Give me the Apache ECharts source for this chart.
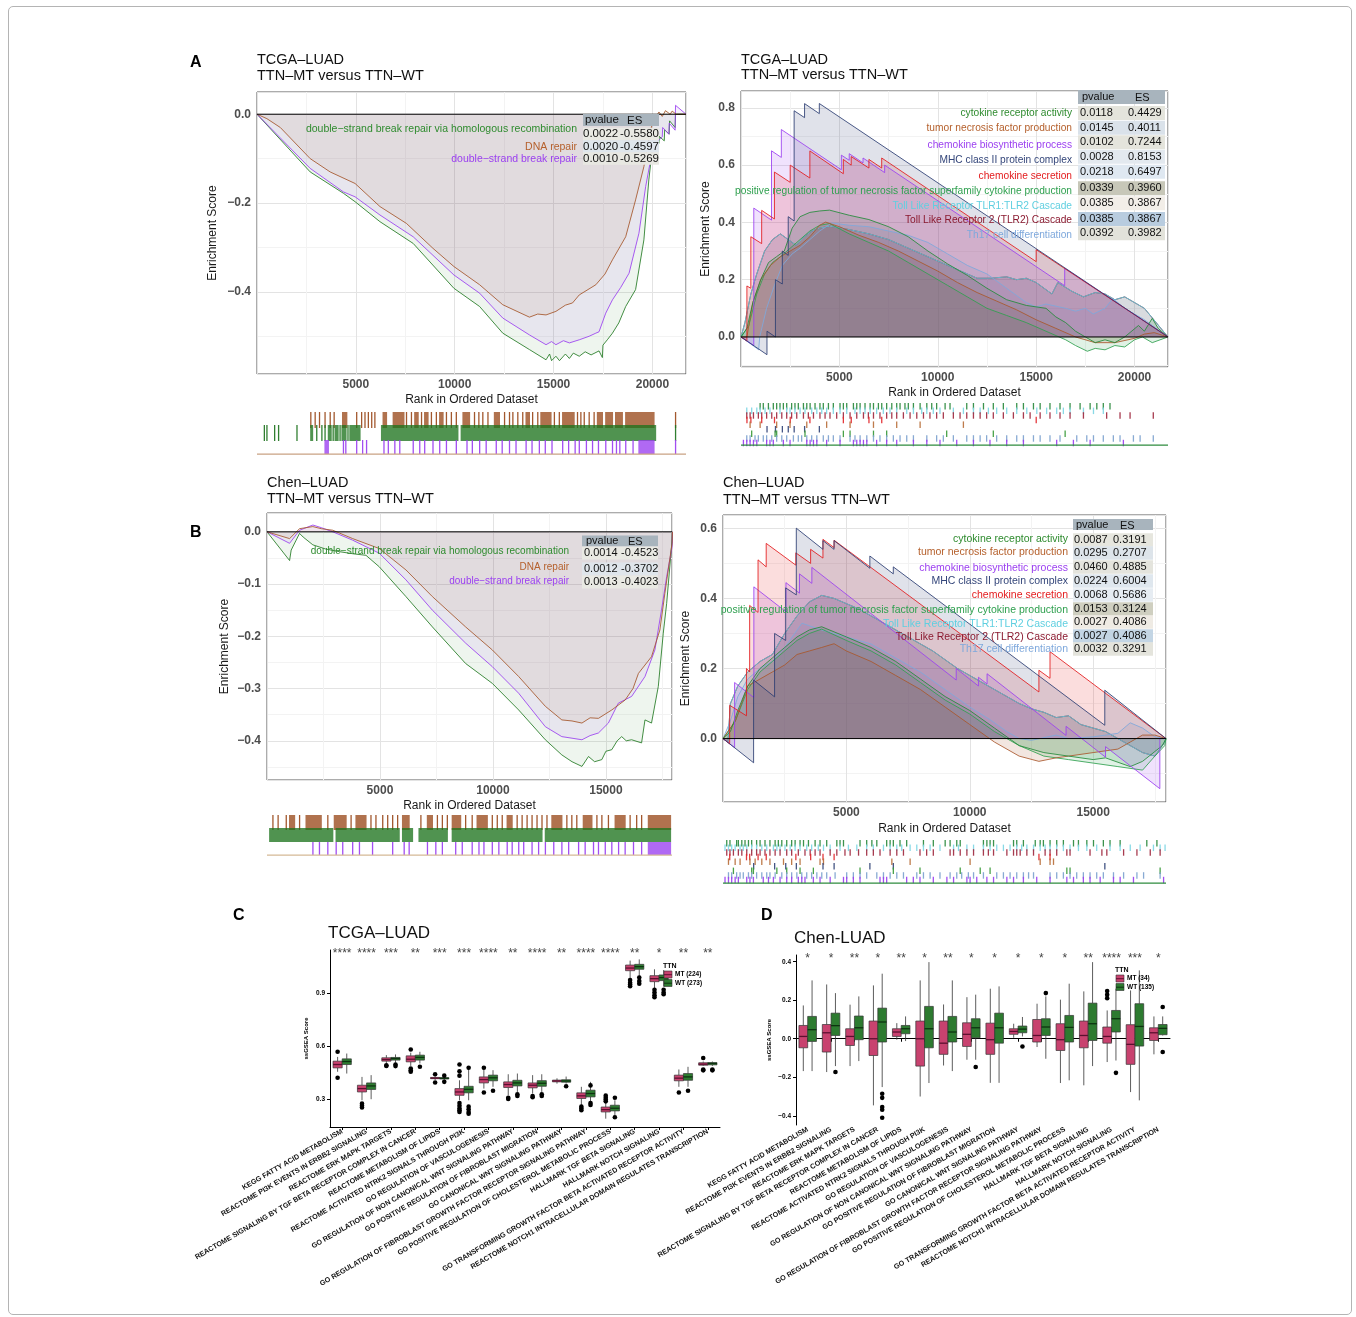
<!DOCTYPE html>
<html>
<head>
<meta charset="utf-8">
<title>TTN mutation: GSEA and ssGSEA</title>
<script src="https://cdn.jsdelivr.net/npm/echarts@6.0.0/dist/echarts.min.js"></script>
<style>
  html, body { margin: 0; padding: 0; background: #fff; }
  #frame { position: absolute; left: 8px; top: 6px; width: 1344px; height: 1309px; border: 1px solid #b4b4b4; border-radius: 5px; box-sizing: border-box; }
  #chart { position: absolute; left: 0; top: 0; width: 1356px; height: 1317px; }
</style>
</head>
<body>
<div id="frame"></div>
<div id="chart"></div>
<script>
// ---------------- data: GSEA, DNA repair sets (ranks in thousands) ----------------
const repairSets = ['double\u2212strand break repair via homologous recombination', 'DNA repair', 'double\u2212strand break repair'];

const aLeftP = [0.0022, 0.0020, 0.0010];
const aLeftES = [-0.5580, -0.4597, -0.5269];
const aLeftCurveHR = [[0,0],[2.69,-0.13],[4.37,-0.178],[4.96,-0.197],[6.22,-0.242],[7.9,-0.291],[9.96,-0.392],[11.26,-0.433],[12.43,-0.493],[13.78,-0.53],[14.62,-0.553],[14.8,-0.54],[14.9,-0.555],[15.12,-0.545],[15.3,-0.555],[15.6,-0.54],[15.8,-0.55],[16.0,-0.538],[16.3,-0.545],[16.6,-0.535],[16.9,-0.542],[17.3,-0.533],[17.47,-0.548],[17.5,-0.52],[17.72,-0.508],[17.98,-0.493],[18.3,-0.47],[18.65,-0.433],[19.15,-0.395],[19.57,-0.283],[19.82,-0.148],[19.99,-0.081],[20.33,-0.066],[20.35,-0.05],[20.6,-0.06],[20.62,-0.035],[20.85,-0.045],[20.87,-0.015],[21.15,-0.03],[21.17,0.0],[21.7,0]];
const aLeftCurveDNA = [[0,0],[0.5,-0.01],[1.18,-0.03],[2.69,-0.1],[3.7,-0.13],[4.96,-0.156],[6.22,-0.208],[7.56,-0.246],[8.9,-0.302],[9.96,-0.343],[11.26,-0.384],[12.43,-0.429],[13.2,-0.445],[13.78,-0.457],[14.2,-0.45],[14.62,-0.452],[15.12,-0.444],[15.6,-0.43],[15.96,-0.425],[16.3,-0.407],[17.14,-0.384],[17.6,-0.36],[17.98,-0.328],[18.65,-0.276],[19.15,-0.193],[19.57,-0.118],[19.82,-0.058],[19.99,-0.021],[20.33,0.005],[20.5,-0.005],[20.66,0.008],[20.9,0.0],[21.0,0.007],[21.2,0.0],[21.7,0]];
const aLeftCurveDSB = [[0,0],[2.69,-0.122],[4.37,-0.175],[4.96,-0.186],[6.22,-0.227],[7.9,-0.276],[9.96,-0.362],[11.26,-0.403],[12.43,-0.459],[13.78,-0.497],[14.62,-0.519],[14.9,-0.512],[15.12,-0.519],[15.5,-0.51],[15.8,-0.515],[16.3,-0.508],[16.8,-0.5],[17.14,-0.493],[17.3,-0.49],[17.64,-0.448],[17.98,-0.418],[18.4,-0.39],[18.82,-0.358],[19.32,-0.268],[19.66,-0.163],[19.91,-0.103],[20.16,-0.066],[20.5,-0.051],[20.52,-0.03],[20.83,-0.045],[20.85,-0.02],[21.15,-0.036],[21.17,0.02],[21.7,0]];
// hit positions: single ranks or [from, to] dense runs
const aLeftRugDNA = [2.72,2.94,3.16,3.44,3.7,3.9,[4.33,4.54],5.04,5.29,5.46,5.63,5.8,5.96,[6.38,6.55],[6.89,7.43],7.56,7.81,[7.98,8.15],8.32,[8.48,8.65],8.82,9.07,[9.24,9.41],9.58,9.83,10.08,[10.42,10.75],11.0,11.22,11.42,11.68,[12.01,12.26],12.52,12.77,12.94,13.19,13.44,[13.61,13.78],13.94,14.2,[14.36,14.87],15.04,15.29,[15.46,16.04],16.21,16.38,16.55,16.8,17.05,[17.22,17.47],[17.64,17.98],[18.14,18.48],[18.65,20.08],21.17];
const aLeftRugHR = [0.37,0.5,0.89,1.09,2.02,[2.72,2.81],3.02,3.28,3.44,[3.61,3.75],3.85,[3.95,4.1],4.2,[4.3,4.5],4.6,[4.7,5.21],[6.3,10.16],[10.33,20.16],21.17];
const aLeftRugDSB = [[3.44,3.61],4.37,4.49,5.04,5.34,5.54,6.42,6.64,6.97,7.22,7.9,8.23,8.48,8.9,9.24,9.58,10.08,10.62,10.89,11.26,11.59,12.1,12.4,12.77,13.1,13.61,13.91,14.28,14.58,14.92,15.46,15.76,16.09,16.3,16.66,16.97,17.27,17.64,17.98,18.18,18.35,18.65,19.02,[19.32,20.08],21.17];

const bLeftP = [0.0014, 0.0012, 0.0013];
const bLeftES = [-0.4523, -0.3702, -0.4023];
const bLeftCurveHR = [[0,0],[1.0,-0.055],[1.07,-0.035],[1.29,-0.016],[1.44,-0.003],[1.6,-0.01],[2.03,-0.025],[2.6,-0.033],[3.2,-0.038],[3.8,-0.042],[4.38,-0.045],[4.97,-0.067],[6.15,-0.124],[7.32,-0.182],[8.79,-0.252],[9.97,-0.29],[11.14,-0.341],[12.32,-0.398],[13.05,-0.427],[13.5,-0.44],[13.94,-0.449],[14.23,-0.43],[14.5,-0.44],[14.82,-0.436],[15.0,-0.42],[15.26,-0.417],[15.5,-0.4],[15.7,-0.392],[15.9,-0.4],[16.14,-0.398],[16.58,-0.404],[16.73,-0.36],[17.02,-0.366],[17.32,-0.296],[17.54,-0.194],[17.69,-0.137],[17.93,-0.016],[17.95,0]];
const bLeftCurveDNA = [[0,0],[1.0,-0.013],[1.44,0.006],[2.03,0.01],[2.4,0.006],[2.91,0.003],[3.79,-0.013],[4.97,-0.032],[6.15,-0.073],[7.32,-0.124],[8.79,-0.182],[9.97,-0.226],[11.14,-0.277],[12.32,-0.334],[13.05,-0.36],[13.5,-0.362],[13.94,-0.366],[14.3,-0.356],[14.67,-0.357],[15.26,-0.341],[15.85,-0.322],[16.2,-0.3],[16.44,-0.271],[17.02,-0.239],[17.39,-0.188],[17.61,-0.118],[17.76,-0.073],[17.93,-0.022],[17.95,0]];
const bLeftCurveDSB = [[0,0],[1.0,-0.022],[1.44,0.003],[2.03,0.013],[2.4,0.008],[2.91,0.0],[3.79,-0.016],[4.97,-0.041],[6.15,-0.092],[7.32,-0.15],[8.79,-0.213],[9.97,-0.258],[11.14,-0.309],[12.32,-0.373],[13.05,-0.392],[13.5,-0.395],[13.94,-0.398],[14.3,-0.39],[14.67,-0.385],[15.11,-0.366],[15.55,-0.328],[16.14,-0.315],[16.73,-0.277],[17.17,-0.226],[17.46,-0.15],[17.69,-0.086],[17.93,-0.029],[17.95,0]];
const bLeftRugDNA = [0.26,0.49,0.85,[1.0,1.22],1.44,[1.73,2.4],2.69,[2.98,3.5],3.72,[3.94,4.38],4.6,4.82,5.12,5.34,5.56,5.78,[6.0,6.29],6.81,[7.1,7.32],7.54,7.76,7.98,[8.2,8.57],8.79,9.08,[9.3,9.75],9.97,10.19,10.41,[10.63,10.85],11.07,11.29,11.51,11.73,11.95,12.17,12.39,[12.61,13.05],13.27,13.49,13.71,[14.0,14.38],14.6,14.82,15.11,[15.41,15.85],16.07,16.36,16.58,[16.88,17.86]];
const bLeftRugHR = [[0.12,2.91],[3.06,5.85],[6.0,6.44],[6.73,7.98],[8.2,12.17],[12.32,17.86]];
const bLeftRugDSB = [2.03,2.32,2.69,3.06,3.35,3.79,4.09,4.67,5.56,6.07,6.29,7.1,7.47,7.76,8.35,8.64,9.08,9.38,9.6,9.97,10.26,10.63,10.85,11.14,11.36,11.73,12.02,12.32,12.69,13.05,13.35,13.79,14.08,14.45,14.67,14.97,15.26,15.56,15.85,16.22,16.58,[16.88,17.86]];

// ---------------- data: GSEA, immune sets ----------------
const immuneSets = ['cytokine receptor activity', 'tumor necrosis factor production', 'chemokine biosynthetic process', 'MHC class II protein complex', 'chemokine secretion', 'positive regulation of tumor necrosis factor superfamily cytokine production', 'Toll Like Receptor TLR1:TLR2 Cascade', 'Toll Like Receptor 2 (TLR2) Cascade', 'Th17 cell differentiation'];

const aRightP = [0.0118, 0.0145, 0.0102, 0.0028, 0.0218, 0.0339, 0.0385, 0.0385, 0.0392];
const aRightES = [0.4429, 0.4011, 0.7244, 0.8153, 0.6497, 0.3960, 0.3867, 0.3867, 0.3982];
const aRightCytokine = [[0,0],[0.3,0.03],[0.6,0.12],[1.0,0.2],[1.4,0.26],[1.8,0.28],[2.2,0.3],[2.6,0.38],[3.0,0.42],[3.5,0.435],[4.0,0.44],[4.5,0.4429],[5.5,0.425],[6.5,0.41],[7.5,0.385],[8.5,0.35],[9.5,0.3],[10.5,0.255],[11.5,0.215],[12.5,0.17],[13.5,0.13],[14.5,0.11],[15.5,0.1],[16.0,0.07],[16.5,0.05],[17.0,0.02],[17.5,0.0],[18.0,-0.02],[18.5,-0.01],[19.0,-0.02],[19.5,0.0],[20.2,0.04],[20.5,0.02],[20.9,0.065],[21.2,0.03],[21.7,0]];
const aRightTNF = [[0,0],[0.3,0.0],[0.6,0.12],[1.0,0.2],[1.5,0.25],[2.0,0.28],[2.5,0.3],[3.0,0.32],[3.5,0.35],[4.0,0.39],[4.3,0.4011],[5.0,0.385],[6.0,0.355],[7.0,0.33],[8.0,0.3],[9.0,0.265],[10.0,0.23],[11.0,0.19],[12.0,0.155],[13.0,0.125],[14.0,0.095],[15.0,0.06],[16.0,0.03],[17.0,0.0],[18.0,-0.02],[19.0,-0.02],[20.0,-0.005],[20.5,0.01],[21.0,0.015],[21.7,0]];
const aRightChemoBio = [[0,0],[0.65,-0.03],[0.65,0.45],[1.55,0.408],[1.55,0.65],[2.05,0.627],[2.05,0.7244],[5.1,0.584],[5.1,0.635],[5.5,0.617],[5.5,0.64],[6.2,0.608],[6.2,0.625],[7.3,0.574],[7.3,0.6],[16.45,0.179],[16.45,0.24],[21.7,0]];
const aRightMHC = [[0,0],[1.32,-0.062],[1.32,0.02],[1.75,0.0],[1.75,0.2],[2.1,0.185],[2.1,0.3],[2.4,0.285],[2.4,0.42],[2.7,0.405],[2.7,0.79],[3.23,0.766],[3.23,0.815],[3.98,0.78],[3.98,0.8153],[21.7,0]];
const aRightChemoSec = [[0,0],[0.3,-0.014],[0.3,0.178],[0.5,0.17],[0.5,0.35],[1.05,0.326],[1.05,0.442],[1.7,0.412],[1.7,0.576],[2.5,0.54],[2.5,0.6],[3.5,0.555],[3.5,0.6497],[5.2,0.57],[5.2,0.62],[5.6,0.6],[5.6,0.63],[6.5,0.59],[6.5,0.62],[7.15,0.59],[7.15,0.625],[15.0,0.263],[15.0,0.305],[21.7,0]];
const aRightPosReg = [[0,0],[0.4,0.04],[0.8,0.15],[1.2,0.22],[1.6,0.26],[2.0,0.28],[2.5,0.31],[3.0,0.34],[3.5,0.37],[4.0,0.39],[4.5,0.396],[5.5,0.36],[6.5,0.33],[7.5,0.3],[8.5,0.26],[9.5,0.22],[10.5,0.18],[11.5,0.14],[12.5,0.1],[13.5,0.075],[14.5,0.05],[15.5,0.02],[16.5,-0.01],[17.0,-0.03],[17.6,-0.05],[18.0,-0.04],[18.5,-0.045],[19.0,-0.03],[19.5,-0.035],[20.0,-0.01],[20.4,0.0],[20.9,-0.02],[21.7,0]];
const aRightTLR = [[0,0],[0.2,0.05],[0.5,0.15],[0.8,0.22],[1.2,0.3],[1.6,0.34],[2.0,0.36],[2.4,0.34],[2.8,0.32],[3.2,0.35],[3.6,0.37],[4.0,0.38],[4.5,0.3867],[5.5,0.375],[6.5,0.36],[7.5,0.34],[8.5,0.31],[9.5,0.28],[10.5,0.25],[11.5,0.22],[12.0,0.205],[12.7,0.205],[13.5,0.21],[14.0,0.2],[14.5,0.205],[15.0,0.19],[15.8,0.15],[16.1,0.19],[16.8,0.16],[17.4,0.14],[18.0,0.155],[18.5,0.15],[19.0,0.13],[19.5,0.14],[20.5,0.1],[21.7,0]];
const aRightTh17 = [[0,0],[0.9,-0.045],[0.95,0.0],[1.3,0.1],[1.7,0.18],[2.1,0.25],[2.6,0.29],[3.0,0.31],[3.5,0.34],[4.0,0.37],[4.6,0.398],[5.5,0.39],[6.5,0.385],[7.5,0.37],[8.5,0.355],[9.5,0.33],[10.5,0.29],[11.5,0.25],[12.5,0.22],[13.5,0.17],[14.5,0.12],[15.0,0.105],[15.5,0.115],[16.5,0.1],[17.0,0.09],[17.5,0.1],[17.9,0.08],[18.5,0.1],[18.9,0.134],[19.5,0.1],[20.5,0.06],[21.7,0]];
const aRightCurves = [aRightCytokine, aRightTNF, aRightChemoBio, aRightMHC, aRightChemoSec, aRightPosReg, aRightTLR, aRightTLR, aRightTh17];
// rug rows, top to bottom
const aRightRugs = [
  [0.97,1.13,1.39,1.64,1.81,1.98,2.15,2.32,2.57,2.74,2.91,3.17,3.34,3.51,3.76,4.01,4.18,4.44,4.69,5.03,5.2,5.37,5.71,5.88,6.05,6.3,6.56,6.73,6.98,7.15,7.4,7.66,7.91,8.08,8.33,8.5,8.76,9.1,9.44,9.69,9.94,10.37,10.62,11.47,11.81,12.32,12.82,13.33,14.01,14.35,14.86,15.2,15.7,16.21,16.72,17.23,17.74,18.08,18.41,18.75],
  [0.29,0.54,0.8,0.97,1.22,1.47,1.98,2.32,2.49,2.74,3.0,3.25,3.59,3.85,4.1,4.35,4.69,5.03,5.37,5.79,6.05,6.3,6.56,6.89,7.23,7.57,7.91,8.42,8.76,9.18,9.44,9.77,10.11,10.79,11.3,11.81,12.15,12.57,12.99,13.5,14.01,14.52,15.03,15.53,16.04,16.38,16.72,17.4,17.91,18.41],
  [0.29,0.46,0.63,0.88,1.05,1.3,1.56,1.81,2.07,2.32,2.57,2.83,3.17,3.42,3.68,4.01,4.27,4.52,4.86,5.2,5.54,5.88,6.22,6.47,6.73,7.06,7.4,7.66,7.91,8.25,8.59,8.93,9.27,9.6,9.94,10.28,10.79,11.13,11.47,11.81,12.15,12.48,12.82,13.33,13.84,14.35,14.69,15.2,15.7,16.21,16.72,17.4,18.58,19.26,19.77,20.95],
  [0.3,0.5,1.05,1.7,2.5,3.5,5.2,5.6,6.5,7.15,15.0],
  [0.46,0.97,1.81,2.49,3.34,4.35,5.54,6.73,7.91,9.1,11.3],
  [1.32,1.75,2.1,2.4,2.7,3.23,3.98],
  [0.54,1.73,1.81,3.25,5.2,5.54,6.73,7.4,10.45,12.82,16.47],
  [0.29,0.46,0.71,0.88,1.13,1.3,1.56,1.81,2.07,2.32,2.66,2.91,3.08,3.34,3.59,3.85,4.18,4.44,4.69,5.03,5.54,5.79,6.05,6.39,6.73,7.06,7.4,7.74,8.08,8.42,8.76,9.44,9.94,10.28,10.79,11.47,11.81,12.15,12.48,12.99,13.5,14.01,14.35,14.86,15.2,15.7,16.21,17.06,17.57,17.91,18.41,18.92,19.26,19.94,20.28,20.95],
  [0.12,0.29,0.46,0.63,0.8,1.3,1.47,1.64,2.15,2.49,3.34,3.51,3.68,3.85,4.35,5.03,5.71,5.88,6.05,6.22,6.39,6.89,7.4,7.91,8.76,9.44,10.11,10.96,11.81,12.65,13.5,14.35,16.04,16.89,17.74,19.43]
];

const bRightP = [0.0087, 0.0295, 0.0460, 0.0224, 0.0068, 0.0153, 0.0027, 0.0027, 0.0032];
const bRightES = [0.3191, 0.2707, 0.4885, 0.6004, 0.5686, 0.3124, 0.4086, 0.4086, 0.3291];
const bRightCytokine = [[0,0],[0.3,0.02],[0.6,0.08],[1.0,0.15],[1.5,0.2],[2.0,0.23],[2.5,0.26],[3.0,0.29],[3.5,0.31],[4.0,0.3191],[5.0,0.29],[6.0,0.26],[7.0,0.22],[8.0,0.17],[9.0,0.12],[10.0,0.08],[11.0,0.03],[12.0,-0.02],[13.0,-0.04],[14.0,-0.05],[15.0,-0.06],[15.5,-0.055],[16.5,-0.08],[17.0,-0.065],[17.8,-0.02],[17.95,0]];
const bRightTNF = [[0,0],[0.5,0.05],[1.0,0.15],[1.5,0.17],[2.0,0.19],[2.5,0.21],[3.0,0.24],[3.5,0.25],[4.0,0.26],[4.5,0.2707],[5.0,0.25],[6.0,0.22],[7.0,0.18],[8.0,0.14],[9.0,0.09],[10.0,0.04],[11.0,-0.01],[12.0,-0.05],[12.8,-0.065],[13.5,-0.055],[14.0,-0.05],[15.0,-0.04],[16.0,-0.03],[16.5,-0.01],[17.0,0.01],[17.5,0.01],[17.95,0]];
const bRightChemoBio = [[0,0],[0.47,-0.026],[0.47,0.16],[1.25,0.117],[1.25,0.433],[2.55,0.362],[2.55,0.445],[3.1,0.415],[3.1,0.47],[3.6,0.443],[3.6,0.4885],[9.45,0.167],[9.45,0.2],[10.35,0.15],[10.35,0.175],[10.7,0.156],[10.7,0.185],[13.9,0.009],[13.9,0.035],[15.5,-0.053],[15.5,-0.023],[17.7,-0.143],[17.7,0.0],[17.95,0]];
const bRightMHC = [[0,0],[1.24,-0.069],[1.24,0.167],[2.09,0.119],[2.09,0.3],[2.54,0.28],[2.54,0.43],[2.97,0.41],[2.97,0.6004],[4.05,0.54],[4.05,0.565],[4.5,0.54],[4.5,0.565],[5.95,0.486],[5.95,0.521],[6.9,0.47],[6.9,0.49],[15.47,0.038],[15.47,0.138],[17.95,0]];
const bRightChemoSec = [[0,0],[0.27,-0.015],[0.27,0.095],[0.95,0.065],[0.95,0.2],[1.08,0.19],[1.08,0.38],[1.42,0.36],[1.42,0.51],[1.75,0.49],[1.75,0.557],[2.95,0.495],[2.95,0.53],[3.55,0.5],[3.55,0.54],[4.05,0.515],[4.05,0.5686],[4.5,0.545],[4.5,0.566],[12.8,0.133],[12.8,0.195],[13.25,0.172],[13.25,0.248],[17.95,0]];
const bRightPosReg = [[0,0],[0.5,0.05],[1.0,0.14],[1.5,0.19],[2.0,0.22],[2.5,0.25],[3.0,0.28],[3.5,0.3],[4.0,0.3124],[5.0,0.28],[6.0,0.25],[7.0,0.21],[8.0,0.16],[9.0,0.11],[10.0,0.07],[11.0,0.02],[12.0,-0.02],[13.0,-0.05],[14.0,-0.06],[15.0,-0.07],[16.0,-0.08],[17.0,-0.09],[17.5,-0.05],[17.9,-0.02],[17.95,0]];
const bRightTLR = [[0,0],[0.2,-0.01],[0.3,0.1],[0.6,0.15],[1.0,0.19],[1.5,0.22],[2.0,0.24],[2.5,0.3],[3.0,0.35],[3.5,0.39],[4.0,0.4086],[4.5,0.4],[5.5,0.37],[6.5,0.33],[7.5,0.29],[8.5,0.25],[9.5,0.2],[10.5,0.16],[11.5,0.12],[12.0,0.1],[12.5,0.085],[13.0,0.075],[13.5,0.06],[14.0,0.065],[14.5,0.04],[15.0,0.03],[15.5,0.02],[16.0,0.0],[16.5,-0.02],[17.0,-0.04],[17.5,-0.05],[17.9,-0.01],[17.95,0]];
const bRightTh17 = [[0,0],[0.3,0.05],[0.6,0.12],[1.0,0.17],[1.5,0.2],[2.0,0.22],[2.5,0.26],[3.2,0.3291],[4.0,0.31],[5.0,0.29],[6.0,0.27],[7.0,0.23],[8.0,0.19],[9.0,0.14],[10.0,0.09],[10.8,0.055],[11.5,0.02],[12.0,0.0],[12.5,-0.005],[13.5,0.01],[14.0,0.0],[15.0,0.005],[16.0,0.015],[16.5,0.045],[17.0,0.03],[17.5,0.005],[17.95,0]];
const bRightCurves = [bRightCytokine, bRightTNF, bRightChemoBio, bRightMHC, bRightChemoSec, bRightPosReg, bRightTLR, bRightTLR, bRightTh17];
const bRightRugs = [
  [0.15,0.28,0.55,0.62,0.76,0.89,1.03,1.16,1.36,1.5,1.7,1.9,2.11,2.24,2.38,2.58,2.78,2.92,3.12,3.26,3.46,3.73,3.93,4.2,4.61,4.74,4.88,5.55,5.82,6.03,6.23,6.63,6.77,6.9,7.17,7.44,8.12,8.52,9.0,9.2,9.47,9.61,10.55,10.69,10.82,10.96,11.77,11.9,12.17,12.65,12.85,12.98,13.25,13.52,13.79,14.2,14.4,14.74,15.01,15.41,15.68,16.09,17.17,17.58],
  [0.08,0.22,0.35,0.49,0.69,0.82,0.96,1.16,1.36,1.57,1.77,2.04,2.18,2.31,2.51,2.72,2.92,3.12,3.39,3.59,3.86,4.07,4.34,4.74,5.08,5.42,5.82,6.09,6.5,6.77,7.04,7.24,7.58,7.85,8.12,8.39,8.79,9.34,9.54,9.88,10.15,10.55,10.82,11.09,11.36,11.63,11.9,12.1,12.31,12.58,12.85,13.05,13.25,13.52,13.79,14.06,14.4,14.74,15.14,15.68,16.09,16.5,16.9,17.44,17.71,17.91],
  [0.15,0.28,0.42,0.62,0.76,0.96,1.16,1.36,1.5,1.7,1.9,2.11,2.31,2.58,2.78,3.05,3.32,3.53,3.73,3.93,4.34,4.61,4.94,5.15,5.49,5.82,6.09,6.36,6.77,7.04,7.31,7.98,8.25,8.52,9.2,9.34,9.61,9.88,10.15,10.55,10.75,10.96,11.5,11.77,11.9,12.04,12.31,12.58,13.05,13.25,13.52,13.93,14.06,14.87,15.35,15.55,16.23,16.77,17.31,17.71],
  [0.27,0.95,1.08,1.42,1.75,2.95,3.55,4.05,4.5,12.8,13.25],
  [0.22,0.49,0.69,1.09,1.3,1.57,1.9,2.45,2.78,3.12,3.93,4.07,6.84,7.58,10.01,12.85,13.25,13.39],
  [1.24,2.09,2.54,2.97,4.05,4.5,5.95,6.9,15.47],
  [0.42,1.16,1.23,2.18,2.58,3.12,3.66,5.55,6.9,7.98,9.61,10.42,10.82,13.93,14.06,17.71],
  [0.22,0.35,0.55,0.69,0.82,1.03,1.16,1.36,1.57,1.77,1.9,2.11,2.38,2.58,2.78,2.99,3.19,3.39,3.59,3.8,4.0,4.2,4.54,5.01,5.28,5.55,5.82,6.23,6.5,6.77,7.04,7.31,7.85,8.12,8.39,8.79,9.2,9.47,9.67,9.94,10.15,10.55,11.09,11.36,11.63,11.9,12.17,12.38,12.58,13.25,13.52,13.79,14.06,14.33,14.6,14.87,15.14,15.41,15.82,16.23,16.77,17.04,17.71],
  [0.08,0.22,0.35,0.49,0.62,0.96,1.09,1.23,1.63,1.84,2.04,2.31,2.58,2.78,3.05,3.19,3.32,3.66,3.93,4.34,4.88,5.01,5.28,5.55,6.36,6.5,6.63,7.44,7.71,7.98,8.52,9.07,9.34,9.88,10.01,10.28,10.69,10.96,11.5,11.77,12.17,12.71,13.25,13.93,14.2,14.6,14.87,15.28,15.82,16.09,16.63,17.85]
];

// ---------------- data: ssGSEA boxplots ----------------
const pathways = ['KEGG FATTY ACID METABOLISM', 'REACTOME PI3K EVENTS IN ERBB2 SIGNALING', 'REACTOME ERK MAPK TARGETS', 'REACTOME SIGNALING BY TGF BETA RECEPTOR COMPLEX IN CANCER', 'REACTOME METABOLISM OF LIPIDS', 'REACTOME ACTIVATED NTRK2 SIGNALS THROUGH PI3K', 'GO REGULATION OF VASCULOGENESIS', 'GO REGULATION OF NON CANONICAL WNT SIGNALING PATHWAY', 'GO POSITIVE REGULATION OF FIBROBLAST MIGRATION', 'GO CANONICAL WNT SIGNALING PATHWAY', 'GO REGULATION OF FIBROBLAST GROWTH FACTOR RECEPTOR SIGNALING PATHWAY', 'GO POSITIVE REGULATION OF CHOLESTEROL METABOLIC PROCESS', 'HALLMARK TGF BETA SIGNALING', 'HALLMARK NOTCH SIGNALING', 'GO TRANSFORMING GROWTH FACTOR BETA ACTIVATED RECEPTOR ACTIVITY', 'REACTOME NOTCH1 INTRACELLULAR DOMAIN REGULATES TRANSCRIPTION'];

// [min, q1, median, q3, max]
const cMT = [[0.457,0.479,0.498,0.517,0.541],[0.296,0.343,0.362,0.381,0.428],[0.504,0.517,0.526,0.536,0.551],[0.49,0.513,0.528,0.547,0.565],[0.41,0.418,0.421,0.425,0.432],[0.296,0.324,0.343,0.362,0.409],[0.362,0.394,0.413,0.428,0.47],[0.324,0.368,0.385,0.4,0.443],[0.334,0.366,0.381,0.394,0.438],[0.39,0.4,0.405,0.41,0.42],[0.268,0.306,0.321,0.338,0.372],[0.192,0.23,0.243,0.258,0.287],[0.985,1.028,1.043,1.06,1.085],[0.928,0.966,0.983,1.0,1.036],[0.372,0.406,0.421,0.438,0.47],[0.49,0.494,0.5,0.508,0.515]];
const cWT = [[0.447,0.498,0.515,0.53,0.56],[0.302,0.357,0.377,0.394,0.438],[0.508,0.523,0.532,0.538,0.555],[0.504,0.523,0.538,0.551,0.57],[0.41,0.416,0.42,0.424,0.43],[0.296,0.338,0.358,0.375,0.485],[0.372,0.406,0.423,0.438,0.466],[0.343,0.377,0.394,0.409,0.447],[0.343,0.375,0.392,0.407,0.443],[0.39,0.398,0.405,0.412,0.43],[0.287,0.315,0.334,0.353,0.4],[0.211,0.236,0.251,0.268,0.296],[0.994,1.036,1.051,1.064,1.092],[0.938,0.972,0.989,1.004,1.032],[0.372,0.409,0.428,0.447,0.485],[0.49,0.496,0.504,0.509,0.515]];
const cMTOut = [[0,0.57],[0,0.423],[1,0.277],[1,0.265],[1,0.255],[2,0.494],[2,0.49],[3,0.583],[3,0.475],[3,0.465],[3,0.457],[4,0.443],[4,0.396],[5,0.498],[5,0.46],[5,0.435],[5,0.28],[5,0.265],[5,0.25],[5,0.24],[5,0.23],[6,0.48],[6,0.34],[7,0.31],[7,0.303],[8,0.32],[8,0.313],[10,0.26],[10,0.25],[10,0.24],[11,0.322],[11,0.31],[11,0.3],[11,0.29],[12,0.975],[12,0.96],[12,0.95],[12,0.94],[13,0.92],[13,0.905],[13,0.89],[13,0.878],[14,0.34],[15,0.535],[15,0.47],[15,0.465]];
const cWTOut = [[2,0.498],[2,0.489],[3,0.485],[4,0.435],[4,0.4],[5,0.48],[5,0.26],[5,0.245],[5,0.23],[5,0.22],[6,0.35],[7,0.33],[7,0.32],[8,0.33],[8,0.32],[9,0.375],[10,0.38],[10,0.28],[10,0.27],[11,0.31],[11,0.2],[12,0.99],[12,0.97],[12,0.955],[13,0.92],[13,0.905],[13,0.895],[14,0.35],[15,0.47],[15,0.465]];
const cStars = ['****','****','***','**','***','***','****','**','****','**','****','****','**','*','**','**'];
const cGroups = ['MT (224)', 'WT (273)'];
const cTicks = [0.3, 0.6, 0.9];

const dMT = [[-0.168,-0.047,0.012,0.069,0.173],[-0.173,-0.069,0.031,0.074,0.282],[-0.142,-0.035,0.012,0.052,0.177],[-0.346,-0.087,0.0,0.092,0.277],[-0.005,0.012,0.035,0.052,0.081],[-0.3,-0.142,0.0,0.092,0.303],[-0.139,-0.081,-0.023,0.092,0.178],[-0.109,-0.04,0.023,0.083,0.216],[-0.229,-0.081,-0.005,0.081,0.26],[0.005,0.023,0.038,0.052,0.078],[-0.043,-0.017,0.017,0.1,0.182],[-0.23,-0.061,-0.005,0.078,0.203],[-0.242,-0.047,0.017,0.092,0.246],[-0.121,-0.023,0.012,0.061,0.147],[-0.277,-0.133,-0.029,0.073,0.251],[-0.081,-0.009,0.031,0.057,0.116]];
const dWT = [[-0.168,-0.014,0.047,0.116,0.303],[-0.142,0.017,0.068,0.133,0.237],[-0.116,-0.005,0.057,0.118,0.22],[-0.251,-0.017,0.087,0.159,0.338],[-0.012,0.026,0.052,0.069,0.116],[-0.23,-0.047,0.052,0.168,0.398],[-0.168,-0.017,0.035,0.116,0.303],[-0.109,0.005,0.057,0.104,0.229],[-0.229,-0.023,0.057,0.133,0.272],[0.012,0.031,0.05,0.066,0.113],[-0.104,0.017,0.061,0.104,0.22],[-0.216,-0.017,0.059,0.121,0.286],[-0.142,-0.009,0.078,0.185,0.398],[-0.113,0.035,0.104,0.147,0.26],[-0.32,-0.038,0.064,0.182,0.355],[0.017,0.021,0.054,0.074,0.116]];
const dMTOut = [[13,0.248],[13,0.229],[13,0.211]];
const dWTOut = [[1,-0.173],[3,-0.286],[3,-0.307],[3,-0.355],[3,-0.369],[3,-0.41],[7,-0.147],[9,-0.04],[10,0.237],[13,-0.177],[15,0.165],[15,-0.069]];
const dStars = ['*','*','**','*','**','*','**','*','*','*','*','*','**','****','***','*'];
const dGroups = ['MT (34)', 'WT (135)'];
const dTicks = [-0.4, -0.2, 0.0, 0.2, 0.4];

// ---------------- styles ----------------
const FONT = '"Liberation Sans", Arial, Helvetica, sans-serif';
const REPAIR_COLORS = ['#237a23', '#a5562a', '#9a3ff0'];
const REPAIR_LABEL_COLORS = ['#2e8b2e', '#b5602c', '#9b40f0'];
const IMMUNE_COLORS = ['#238b3a', '#a9572c', '#9b3ff0', '#2c3d72', '#e31a1c', '#2fa04f', '#5fcfe0', '#8b1a30', '#7ea8dc'];
const IMMUNE_LABEL_COLORS = ['#2e8b2e', '#b5602c', '#9b3ff0', '#34467a', '#e31a1c', '#2fa04f', '#5fcfe0', '#8b1a30', '#7ea8dc'];
const IMMUNE_RUG_COLORS = ['#2b8a3e', '#7fd6e4', '#a02a40', '#e2282c', '#b8703c', '#34467a', '#3a9a3a', '#7ea3cf', '#9b3ff0'];
const MT_COLOR = '#c8426f';
const WT_COLOR = '#2d7b30';

const opt = { animation: false, textStyle: { fontFamily: FONT }, grid: [], xAxis: [], yAxis: [], series: [], graphic: [] };

function num(v, d) {
  if (Math.abs(v) < 1e-9) v = 0;
  return v.toFixed(d).replace('-', '\u2212');
}
function text(x, y, str, font, color, align, vAlign, rot) {
  opt.graphic.push({ type: 'text', x: x, y: y, rotation: rot || 0, z: 100, silent: true,
    style: { text: str, font: font, fill: color, textAlign: align || 'left', textVerticalAlign: vAlign || 'middle' } });
}
function rect(x, y, w, h, fill, stroke) {
  opt.graphic.push({ type: 'rect', shape: { x: x, y: y, width: w, height: h }, z: 95, silent: true,
    style: { fill: fill, stroke: stroke || null, lineWidth: stroke ? 0.6 : 0 } });
}

function gsea(cfg) {
  const [L, T, W, H] = cfg.plot;
  const g = opt.grid.length;
  opt.grid.push({ left: L, top: T, width: W, height: H, show: true, borderColor: '#595959', borderWidth: 1, backgroundColor: '#fff', outerBoundsMode: 'none' });
  const common = {
    axisLine: { show: false }, axisTick: { show: false },
    nameLocation: 'middle', nameTextStyle: { fontSize: 12, color: '#1a1a1a' },
    splitLine: { show: true, lineStyle: { color: '#e3e3e3', width: 1 } },
    minorTick: { show: false, splitNumber: 2 },
    minorSplitLine: { show: true, lineStyle: { color: '#f3f3f3', width: 1 } }
  };
  opt.xAxis.push(Object.assign({}, common, {
    type: 'value', gridIndex: g, min: 0, max: cfg.xMax, splitNumber: 4,
    name: 'Rank in Ordered Dataset', nameGap: cfg.xNameGap,
    axisLabel: { showMinLabel: false, showMaxLabel: false, fontSize: 12, fontWeight: 'bold', color: '#4d4d4d', margin: 5, formatter: v => String(Math.round(v)) }
  }));
  opt.yAxis.push(Object.assign({}, common, {
    type: 'value', gridIndex: g, min: cfg.yMin, max: cfg.yMax, splitNumber: cfg.ySplit,
    name: 'Enrichment Score', nameGap: cfg.yNameGap,
    axisLabel: { showMinLabel: false, showMaxLabel: false, fontSize: 12, fontWeight: 'bold', color: '#4d4d4d', margin: 6, formatter: v => num(v, 1) }
  }));
  cfg.order.forEach(i => {
    opt.series.push({ type: 'line', xAxisIndex: g, yAxisIndex: g, symbol: 'none', showSymbol: false, silent: true, z: 2,
      data: cfg.curves[i].map(p => [p[0] * 1000, p[1]]),
      lineStyle: { color: cfg.colors[i], width: 1, opacity: 0.85 },
      areaStyle: { color: cfg.colors[i], opacity: cfg.fill, origin: 'auto' } });
  });
  opt.series.push({ type: 'line', xAxisIndex: g, yAxisIndex: g, symbol: 'none', silent: true, z: 3,
    data: [[0, 0], [cfg.xMax, 0]], lineStyle: { color: '#000', width: 1 } });

  // rug of hit positions
  const rg = opt.grid.length;
  opt.grid.push({ left: L, top: cfg.rugTop, width: W, height: 50, show: false, outerBoundsMode: 'none' });
  opt.xAxis.push({ type: 'value', gridIndex: rg, min: 0, max: cfg.xMax, show: false });
  opt.yAxis.push({ type: 'value', gridIndex: rg, min: 0, max: 1, show: false });
  cfg.rugs.forEach((ticks, r) => {
    const band = cfg.rugBands[r], col = cfg.rugColors[r];
    opt.series.push({ type: 'custom', xAxisIndex: rg, yAxisIndex: rg, silent: true, z: 2, clip: false,
      data: ticks.map(t => Array.isArray(t) ? [t[0] * 1000, t[1] * 1000] : [t * 1000, t * 1000]),
      renderItem: (params, api) => {
        const cs = params.coordSys;
        const x0 = api.coord([api.value(0), 0])[0];
        const x1 = api.coord([api.value(1), 0])[0];
        const solid = x1 - x0 > 1;
        return { type: 'rect', shape: { x: x0 - 0.6, y: cs.y + band[0], width: Math.max(1.3, x1 - x0 + 1.2), height: band[1] - band[0] },
          style: { fill: col, opacity: solid ? 0.78 : 0.92 } };
      } });
  });
  rect(L, cfg.rugLine, W, 1.3, cfg.rugLineColor);

  // titles
  text(L, cfg.titleY[0], cfg.title[0], '14.5px ' + FONT, '#111');
  text(L, cfg.titleY[1], cfg.title[1], '14.5px ' + FONT, '#111');

  // gene-set labels and p-value / ES table
  cfg.sets.forEach((s, i) => text(cfg.labelX, cfg.labelY[i], s, cfg.labelFont + ' ' + FONT, cfg.labelColors[i], 'right'));
  const tb = cfg.table;
  rect(tb.x, tb.headY - tb.headH / 2, tb.w, tb.headH, '#a8b4bd');
  text(tb.pX + 2, tb.headY, 'pvalue', tb.font + ' ' + FONT, '#111');
  text(tb.esX + 7, tb.headY + 1, 'ES', tb.font + ' ' + FONT, '#111');
  tb.rowY.forEach((y, i) => {
    rect(tb.x, y - tb.rowH / 2, tb.w, tb.rowH, tb.bg[i]);
    text(tb.pX, y, cfg.p[i].toFixed(4), tb.font + ' ' + FONT, '#111');
    text(tb.esX, y, cfg.es[i].toFixed(4), tb.font + ' ' + FONT, '#111');
  });
}

function boxRender(side, fill, stroke) {
  return (params, api) => {
    const i = api.value(0);
    const bw = api.size([1, 0])[0];
    const w = bw * 0.375;
    const cx = api.coord([i, 0])[0] + side * w / 2;
    const y = k => api.coord([i, api.value(k)])[1];
    const ln = { stroke: '#333', lineWidth: 0.8 };
    return { type: 'group', children: [
      { type: 'line', shape: { x1: cx, y1: y(1), x2: cx, y2: y(2) }, style: ln },
      { type: 'line', shape: { x1: cx, y1: y(4), x2: cx, y2: y(5) }, style: ln },
      { type: 'rect', shape: { x: cx - w / 2, y: y(4), width: w, height: Math.max(1, y(2) - y(4)) }, style: { fill: fill, stroke: '#333', lineWidth: 0.7 } },
      { type: 'line', shape: { x1: cx - w / 2, y1: y(3), x2: cx + w / 2, y2: y(3) }, style: { stroke: stroke, lineWidth: 1.3 } }
    ] };
  };
}
function outRender(side) {
  return (params, api) => {
    const bw = api.size([1, 0])[0];
    const p = api.coord([api.value(0), api.value(1)]);
    return { type: 'circle', shape: { cx: p[0] + side * bw * 0.1875, cy: p[1], r: 2.3 }, style: { fill: '#000' } };
  };
}

function boxPanel(cfg) {
  const [L, T, W, H] = cfg.plot;
  const g = opt.grid.length;
  opt.grid.push({ left: L, top: T, width: W, height: H, show: false, outerBoundsMode: 'none' });
  opt.xAxis.push({ type: 'category', gridIndex: g, data: pathways,
    axisLine: { show: true, lineStyle: { color: '#000', width: 1 } },
    axisTick: { show: true, alignWithLabel: true, length: 3, lineStyle: { color: '#000' } },
    axisLabel: { interval: 0, rotate: 30, fontSize: 7.2, fontWeight: 'bold', color: '#111', margin: 4 },
    splitLine: { show: false } });
  opt.yAxis.push({ type: 'value', gridIndex: g, min: cfg.yMin, max: cfg.yMax, splitNumber: cfg.ySplit,
    name: 'ssGSEA Score', nameLocation: 'middle', nameGap: cfg.yNameGap,
    nameTextStyle: { fontSize: 6, fontWeight: 'bold', color: '#000' },
    axisLine: { show: true, lineStyle: { color: '#000', width: 1 } },
    axisTick: { show: true, length: 3, lineStyle: { color: '#000' }, customValues: cfg.ticks },
    axisLabel: { fontSize: 6.5, fontWeight: 'bold', color: '#000', margin: 5,
      customValues: cfg.ticks, formatter: v => num(v, 1) },
    splitLine: { show: false } });
  [[cfg.mt, -1, MT_COLOR, '#5c1030'], [cfg.wt, 1, WT_COLOR, '#0d3310']].forEach(([stats, side, fill, med]) => {
    opt.series.push({ type: 'custom', xAxisIndex: g, yAxisIndex: g, silent: true, z: 3,
      data: stats.map((s, i) => [i].concat(s)), renderItem: boxRender(side, fill, med) });
  });
  [[cfg.mtOut, -1], [cfg.wtOut, 1]].forEach(([pts, side]) => {
    opt.series.push({ type: 'custom', xAxisIndex: g, yAxisIndex: g, silent: true, z: 4,
      data: pts, renderItem: outRender(side) });
  });
  opt.series.push({ type: 'custom', xAxisIndex: g, yAxisIndex: g, silent: true, z: 5,
    data: cfg.stars.map((s, i) => [i, cfg.yMax]),
    renderItem: (params, api) => {
      const x = api.coord([api.value(0), 0])[0];
      return { type: 'text', x: x, y: params.coordSys.y + 4,
        style: { text: cfg.stars[params.dataIndex], font: '12px ' + FONT, fill: '#444', textAlign: 'center', textVerticalAlign: 'middle', align: 'center', verticalAlign: 'middle' } };
    } });
  text(cfg.titlePos[0], cfg.titlePos[1], cfg.title, '17px ' + FONT, '#111');
  const lg = cfg.legend;
  text(lg[0], lg[1], 'TTN', 'bold 7px ' + FONT, '#000');
  [[MT_COLOR, '#5c1030'], [WT_COLOR, '#0d3310']].forEach(([f, m], k) => {
    const y = lg[1] + 5 + k * 8.5;
    rect(lg[0] + 1, y, 8, 7, f, '#333');
    rect(lg[0] + 1, y + 3.2, 8, 1, m);
    text(lg[0] + 12, y + 3.5, cfg.groups[k], 'bold 6.5px ' + FONT, '#000');
  });
}

// ---------------- panels ----------------
const rightBands = IMMUNE_RUG_COLORS.map((c, i) => [i * 4.6, i * 4.6 + 6.5]);

gsea({
  plot: [257, 92, 429, 282], xMax: 21700, yMin: -0.585, yMax: 0.05, ySplit: 3, xNameGap: 20, yNameGap: 38, fill: 0.08,
  curves: [aLeftCurveHR, aLeftCurveDNA, aLeftCurveDSB], colors: REPAIR_COLORS, order: [0, 2, 1],
  rugTop: 412, rugs: [aLeftRugDNA, aLeftRugHR, aLeftRugDSB], rugBands: [[0, 16], [13, 29], [28, 42]],
  rugColors: ['#9a4a1c', '#1f741f', '#9a3ff0'], rugLine: 453.5, rugLineColor: '#c9a283',
  title: ['TCGA\u2013LUAD', 'TTN\u2013MT versus TTN\u2013WT'], titleY: [60, 76],
  sets: repairSets, labelColors: REPAIR_LABEL_COLORS, labelX: 577, labelY: [129.5, 147, 159.5], labelFont: '10.5px',
  p: aLeftP, es: aLeftES,
  table: { x: 583, w: 76, headY: 120, headH: 12, pX: 583, esX: 620, rowY: [134, 146.5, 158.5], rowH: 12.5,
    bg: ['#e9e9e3', '#dfe6ec', '#e8e8e2'], font: '11.5px' }
});

gsea({
  plot: [741, 91, 427, 276], xMax: 21700, yMin: -0.105, yMax: 0.859, ySplit: 5, xNameGap: 20, yNameGap: 29, fill: 0.15,
  curves: aRightCurves, colors: IMMUNE_COLORS, order: [7, 6, 8, 5, 1, 0, 2, 4, 3],
  rugTop: 403, rugs: aRightRugs, rugBands: rightBands, rugColors: IMMUNE_RUG_COLORS, rugLine: 444.5, rugLineColor: '#2e8b3e',
  title: ['TCGA\u2013LUAD', 'TTN\u2013MT versus TTN\u2013WT'], titleY: [60, 75],
  sets: immuneSets, labelColors: IMMUNE_LABEL_COLORS, labelX: 1072, labelY: [113, 128, 145.5, 160.5, 176.5, 191.5, 206, 220.5, 235], labelFont: '10.2px',
  p: aRightP, es: aRightES,
  table: { x: 1078, w: 87, headY: 97, headH: 14, pX: 1080, esX: 1128, rowY: [113, 127.7, 142.3, 156.7, 171.7, 188.3, 203.3, 219, 233.3], rowH: 14,
    bg: ['#e4e4dc', '#dae2ea', '#e4e4dc', '#e3e9ef', '#dfe8f1', '#c7c7b8', '#f2eee8', '#b8ccdf', '#e2e2da'], font: '11px' }
});

gsea({
  plot: [267, 513, 405, 267], xMax: 17926, yMin: -0.475, yMax: 0.036, ySplit: 5, xNameGap: 20, yNameGap: 36, fill: 0.08,
  curves: [bLeftCurveHR, bLeftCurveDNA, bLeftCurveDSB], colors: REPAIR_COLORS, order: [0, 2, 1],
  rugTop: 815, rugs: [bLeftRugDNA, bLeftRugHR, bLeftRugDSB], rugBands: [[0, 15], [13, 27], [27, 40]],
  rugColors: ['#9a4a1c', '#1f741f', '#9a3ff0'], rugLine: 854.5, rugLineColor: '#d5b996',
  title: ['Chen\u2013LUAD', 'TTN\u2013MT versus TTN\u2013WT'], titleY: [483, 499],
  sets: repairSets, labelColors: REPAIR_LABEL_COLORS, labelX: 569, labelY: [551, 567, 581], labelFont: '10px',
  p: bLeftP, es: bLeftES,
  table: { x: 582, w: 76, headY: 541, headH: 11, pX: 584, esX: 621, rowY: [553, 569, 582], rowH: 13,
    bg: ['#e9e9e3', '#dfe5eb', '#e9e9e3'], font: '11px' }
});

gsea({
  plot: [723, 515, 443, 287], xMax: 17950, yMin: -0.181, yMax: 0.638, ySplit: 4, xNameGap: 21, yNameGap: 31, fill: 0.15,
  curves: bRightCurves, colors: IMMUNE_COLORS, order: [7, 6, 8, 5, 1, 0, 2, 4, 3],
  rugTop: 840, rugs: bRightRugs, rugBands: rightBands, rugColors: IMMUNE_RUG_COLORS, rugLine: 882.5, rugLineColor: '#2e8b3e',
  title: ['Chen\u2013LUAD', 'TTN\u2013MT versus TTN\u2013WT'], titleY: [483, 500],
  sets: immuneSets, labelColors: IMMUNE_LABEL_COLORS, labelX: 1068, labelY: [539, 552, 568, 581, 595, 610, 624, 637, 649], labelFont: '10.5px',
  p: bRightP, es: bRightES,
  table: { x: 1073, w: 80, headY: 524.5, headH: 11, pX: 1074, esX: 1113, rowY: [540, 553, 567, 581, 595, 609, 622, 636, 649], rowH: 13.5,
    bg: ['#e6e6de', '#dde4ea', '#e4e4dd', '#dfe7ee', '#e6ecf2', '#cfcfc0', '#efebe4', '#c3d5e4', '#e4e4dc'], font: '11px' }
});

boxPanel({
  plot: [330, 950, 390, 177], yMin: 0.145, yMax: 1.145, ySplit: 3, yNameGap: 21, ticks: cTicks,
  mt: cMT, wt: cWT, mtOut: cMTOut, wtOut: cWTOut, stars: cStars, groups: cGroups,
  title: 'TCGA\u2013LUAD', titlePos: [328, 933], legend: [663, 966]
});
boxPanel({
  plot: [796, 955, 374, 170], yMin: -0.448, yMax: 0.435, ySplit: 4, yNameGap: 24, ticks: dTicks,
  mt: dMT, wt: dWT, mtOut: dMTOut, wtOut: dWTOut, stars: dStars, groups: dGroups,
  title: 'Chen-LUAD', titlePos: [794, 938], legend: [1115, 970]
});

// panel letters
text(190, 63, 'A', 'bold 16px ' + FONT, '#000');
text(190, 533, 'B', 'bold 16px ' + FONT, '#000');
text(233, 916, 'C', 'bold 16px ' + FONT, '#000');
text(761, 916, 'D', 'bold 16px ' + FONT, '#000');

const chart = echarts.init(document.getElementById('chart'), null, { renderer: 'canvas' });
chart.setOption(opt);
</script>
</body>
</html>
